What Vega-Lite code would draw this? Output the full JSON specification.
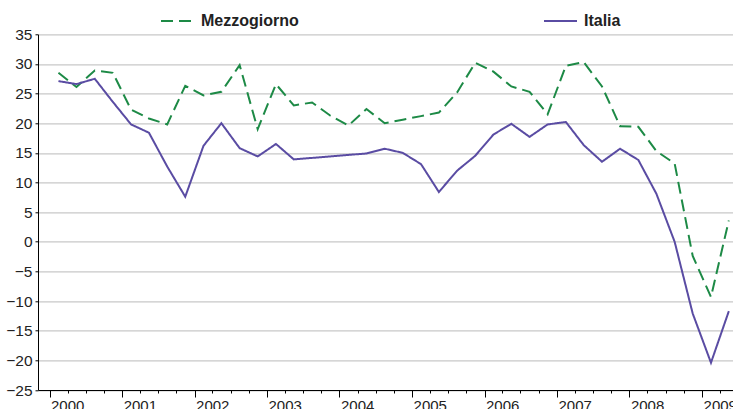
{
  "$schema": "https://vega.github.io/schema/vega-lite/v6.json",
  "width": 695,
  "height": 355.7,
  "autosize": "none",
  "padding": {"left": 38, "top": 34.3, "right": 0, "bottom": 19},
  "background": "white",
  "config": {"view": {"stroke": null}, "font": "Liberation Sans"},
  "data": {"values": [
    {"data":"2000-02-15","serie":"Mezzogiorno","valore":28.5},
    {"data":"2000-05-16","serie":"Mezzogiorno","valore":26.1},
    {"data":"2000-08-16","serie":"Mezzogiorno","valore":28.9},
    {"data":"2000-11-15","serie":"Mezzogiorno","valore":28.5},
    {"data":"2001-02-15","serie":"Mezzogiorno","valore":22.3},
    {"data":"2001-05-16","serie":"Mezzogiorno","valore":20.8},
    {"data":"2001-08-16","serie":"Mezzogiorno","valore":19.8},
    {"data":"2001-11-15","serie":"Mezzogiorno","valore":26.3},
    {"data":"2002-02-15","serie":"Mezzogiorno","valore":24.7},
    {"data":"2002-05-16","serie":"Mezzogiorno","valore":25.3},
    {"data":"2002-08-16","serie":"Mezzogiorno","valore":29.8},
    {"data":"2002-11-15","serie":"Mezzogiorno","valore":19.0},
    {"data":"2003-02-15","serie":"Mezzogiorno","valore":26.6},
    {"data":"2003-05-16","serie":"Mezzogiorno","valore":23.0},
    {"data":"2003-08-16","serie":"Mezzogiorno","valore":23.5},
    {"data":"2003-11-15","serie":"Mezzogiorno","valore":21.3},
    {"data":"2004-02-15","serie":"Mezzogiorno","valore":19.6},
    {"data":"2004-05-16","serie":"Mezzogiorno","valore":22.4},
    {"data":"2004-08-16","serie":"Mezzogiorno","valore":20.0},
    {"data":"2004-11-15","serie":"Mezzogiorno","valore":20.6},
    {"data":"2005-02-15","serie":"Mezzogiorno","valore":21.2},
    {"data":"2005-05-16","serie":"Mezzogiorno","valore":21.8},
    {"data":"2005-08-16","serie":"Mezzogiorno","valore":25.2},
    {"data":"2005-11-15","serie":"Mezzogiorno","valore":30.2},
    {"data":"2006-02-15","serie":"Mezzogiorno","valore":28.7},
    {"data":"2006-05-16","serie":"Mezzogiorno","valore":26.2},
    {"data":"2006-08-16","serie":"Mezzogiorno","valore":25.3},
    {"data":"2006-11-15","serie":"Mezzogiorno","valore":21.5},
    {"data":"2007-02-15","serie":"Mezzogiorno","valore":29.7},
    {"data":"2007-05-16","serie":"Mezzogiorno","valore":30.3},
    {"data":"2007-08-16","serie":"Mezzogiorno","valore":26.2},
    {"data":"2007-11-15","serie":"Mezzogiorno","valore":19.5},
    {"data":"2008-02-15","serie":"Mezzogiorno","valore":19.4},
    {"data":"2008-05-16","serie":"Mezzogiorno","valore":15.3},
    {"data":"2008-08-16","serie":"Mezzogiorno","valore":13.2},
    {"data":"2008-11-15","serie":"Mezzogiorno","valore":-2.4},
    {"data":"2009-02-15","serie":"Mezzogiorno","valore":-9.3},
    {"data":"2009-05-16","serie":"Mezzogiorno","valore":3.6},
    {"data":"2000-02-15","serie":"Italia","valore":27.1},
    {"data":"2000-05-16","serie":"Italia","valore":26.6},
    {"data":"2000-08-16","serie":"Italia","valore":27.5},
    {"data":"2000-11-15","serie":"Italia","valore":23.6},
    {"data":"2001-02-15","serie":"Italia","valore":19.8},
    {"data":"2001-05-16","serie":"Italia","valore":18.4},
    {"data":"2001-08-16","serie":"Italia","valore":12.7},
    {"data":"2001-11-15","serie":"Italia","valore":7.6},
    {"data":"2002-02-15","serie":"Italia","valore":16.2},
    {"data":"2002-05-16","serie":"Italia","valore":20.0},
    {"data":"2002-08-16","serie":"Italia","valore":15.8},
    {"data":"2002-11-15","serie":"Italia","valore":14.4},
    {"data":"2003-02-15","serie":"Italia","valore":16.5},
    {"data":"2003-05-16","serie":"Italia","valore":13.9},
    {"data":"2003-08-16","serie":"Italia","valore":14.15},
    {"data":"2003-11-15","serie":"Italia","valore":14.4},
    {"data":"2004-02-15","serie":"Italia","valore":14.65},
    {"data":"2004-05-16","serie":"Italia","valore":14.9},
    {"data":"2004-08-16","serie":"Italia","valore":15.7},
    {"data":"2004-11-15","serie":"Italia","valore":15.0},
    {"data":"2005-02-15","serie":"Italia","valore":13.1},
    {"data":"2005-05-16","serie":"Italia","valore":8.4},
    {"data":"2005-08-16","serie":"Italia","valore":12.0},
    {"data":"2005-11-15","serie":"Italia","valore":14.5},
    {"data":"2006-02-15","serie":"Italia","valore":18.1},
    {"data":"2006-05-16","serie":"Italia","valore":19.9},
    {"data":"2006-08-16","serie":"Italia","valore":17.7},
    {"data":"2006-11-15","serie":"Italia","valore":19.8},
    {"data":"2007-02-15","serie":"Italia","valore":20.2},
    {"data":"2007-05-16","serie":"Italia","valore":16.3},
    {"data":"2007-08-16","serie":"Italia","valore":13.5},
    {"data":"2007-11-15","serie":"Italia","valore":15.7},
    {"data":"2008-02-15","serie":"Italia","valore":13.8},
    {"data":"2008-05-16","serie":"Italia","valore":8.1},
    {"data":"2008-08-16","serie":"Italia","valore":0.0},
    {"data":"2008-11-15","serie":"Italia","valore":-12.1},
    {"data":"2009-02-15","serie":"Italia","valore":-20.4},
    {"data":"2009-05-16","serie":"Italia","valore":-11.7}
  ]},
  "mark": {"type": "line", "strokeWidth": 2, "clip": false},
  "encoding": {
    "x": {
      "field": "data", "type": "temporal",
      "scale": {"domain": [{"year":1999,"month":11,"date":4},{"year":2009,"month":6,"date":6}], "nice": false},
      "axis": {
        "title": null, "grid": false,
        "values": [
          {"year":2000,"month":1,"date":1},{"year":2000,"month":4,"date":1},{"year":2000,"month":7,"date":1},{"year":2000,"month":10,"date":1},
          {"year":2001,"month":1,"date":1},{"year":2001,"month":4,"date":1},{"year":2001,"month":7,"date":1},{"year":2001,"month":10,"date":1},
          {"year":2002,"month":1,"date":1},{"year":2002,"month":4,"date":1},{"year":2002,"month":7,"date":1},{"year":2002,"month":10,"date":1},
          {"year":2003,"month":1,"date":1},{"year":2003,"month":4,"date":1},{"year":2003,"month":7,"date":1},{"year":2003,"month":10,"date":1},
          {"year":2004,"month":1,"date":1},{"year":2004,"month":4,"date":1},{"year":2004,"month":7,"date":1},{"year":2004,"month":10,"date":1},
          {"year":2005,"month":1,"date":1},{"year":2005,"month":4,"date":1},{"year":2005,"month":7,"date":1},{"year":2005,"month":10,"date":1},
          {"year":2006,"month":1,"date":1},{"year":2006,"month":4,"date":1},{"year":2006,"month":7,"date":1},{"year":2006,"month":10,"date":1},
          {"year":2007,"month":1,"date":1},{"year":2007,"month":4,"date":1},{"year":2007,"month":7,"date":1},{"year":2007,"month":10,"date":1},
          {"year":2008,"month":1,"date":1},{"year":2008,"month":4,"date":1},{"year":2008,"month":7,"date":1},{"year":2008,"month":10,"date":1},
          {"year":2009,"month":1,"date":1},{"year":2009,"month":4,"date":1}
        ],
        "labelExpr": "month(datum.value) == 0 ? timeFormat(datum.value, '%Y') : ''",
        "tickSize": {"condition": {"test": "month(datum.value) == 0", "value": 7}, "value": 3},
        "tickColor": "#000", "tickWidth": 1,
        "domainColor": "#000", "domainWidth": 1,
        "labelAlign": "left", "labelBaseline": "top", "labelPadding": 1, "labelOffset": 1,
        "labelFontSize": 15, "labelColor": "#222", "labelFlush": false, "labelOverlap": false
      }
    },
    "y": {
      "field": "valore", "type": "quantitative",
      "scale": {"domain": [-25, 35], "nice": false, "zero": false},
      "axis": {
        "title": null, "values": [-25,-20,-15,-10,-5,0,5,10,15,20,25,30,35],
        "grid": true, "gridColor": "#c8c8c8", "gridWidth": 1.3,
        "tickSize": 3, "tickColor": "#000", "domainColor": "#000", "domainWidth": 1,
        "labelPadding": 3, "labelFontSize": 15.5, "labelColor": "#222"
      }
    },
    "color": {
      "field": "serie", "type": "nominal",
      "scale": {"domain": ["Mezzogiorno", "Italia"], "range": ["#1d8a46", "#5a4ca3"]},
      "legend": {
        "title": null, "orient": "none", "legendX": 122, "legendY": -31, "direction": "horizontal",
        "symbolType": "stroke", "symbolSize": 1089, "symbolStrokeWidth": 2,
        "labelFontSize": 16, "labelFontWeight": "bold", "labelColor": "#222", "labelOffset": 6,
        "columnPadding": 241, "padding": 0, "labelLimit": 300
      }
    },
    "strokeDash": {
      "field": "serie", "type": "nominal",
      "scale": {"domain": ["Mezzogiorno", "Italia"], "range": [[12, 6], [1, 0]]},
      "legend": {
        "title": null, "orient": "none", "legendX": 122, "legendY": -31, "direction": "horizontal",
        "symbolType": "stroke", "symbolSize": 1089, "symbolStrokeWidth": 2,
        "labelFontSize": 16, "labelFontWeight": "bold", "labelColor": "#222", "labelOffset": 6,
        "columnPadding": 241, "padding": 0, "labelLimit": 300
      }
    }
  }
}
